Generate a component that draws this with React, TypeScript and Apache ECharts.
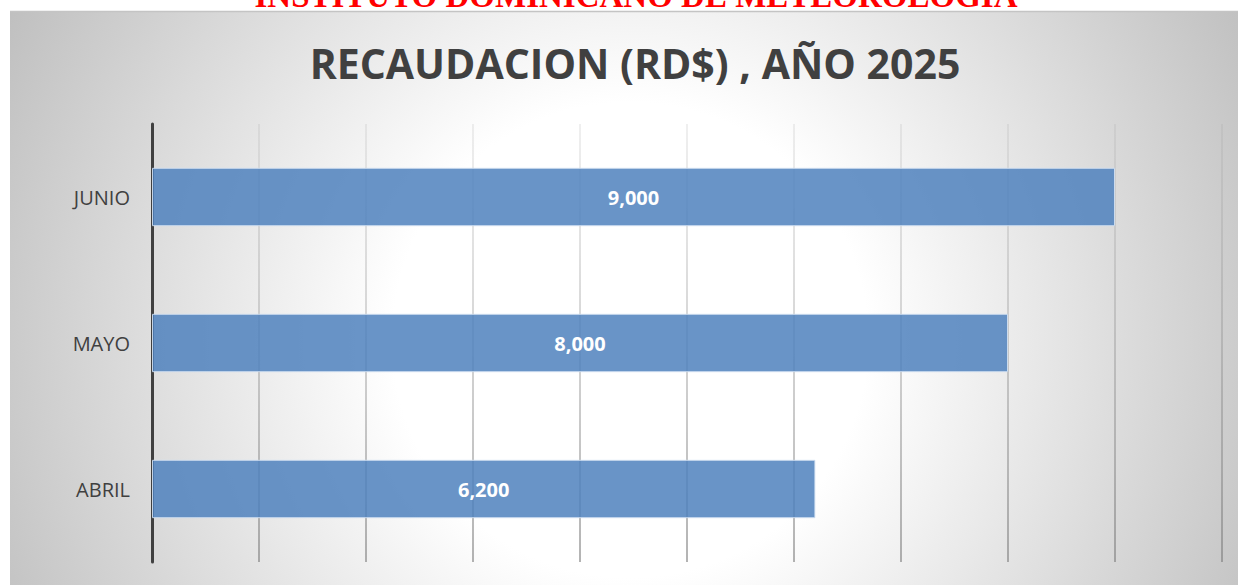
import React, { useEffect, useRef } from "react";
import * as echarts from "echarts";

const categories = ["ABRIL", "MAYO", "JUNIO"];
const values = [6200, 8000, 9000];
const axisMax = 10000;
const axisInterval = 1000;
const chartTitle = "RECAUDACION (RD$) , AÑO 2025";
const headerText = "INSTITUTO DOMINICANO DE METEOROLOGIA";

export default function App() {
  const ref = useRef<HTMLDivElement>(null);
  useEffect(() => {
    if (!ref.current) return;
    const chart = echarts.init(ref.current, null, { renderer: "svg" });
    const fmt = (v: number) => v.toLocaleString("en-US");
    chart.setOption({
      animation: false,
      backgroundColor: "#ffffff",
      graphic: [
        {
          type: "rect",
          z: -100,
          shape: { x: 10, y: 11, width: 1228, height: 574 },
          style: {
            fill: {
              type: "radial",
              x: 630,
              y: 340,
              r: 720,
              global: true,
              colorStops: [
                { offset: 0, color: "#ffffff" },
                { offset: 0.33, color: "#ffffff" },
                { offset: 1, color: "#bdbdbd" },
              ],
            },
          },
        },
        {
          type: "line",
          z: -99,
          shape: { x1: 10, y1: 11.5, x2: 1238, y2: 11.5 },
          style: { stroke: "#c4c4c4", lineWidth: 1.5 },
        },
        {
          type: "text",
          z: 10,
          x: 636,
          y: -4,
          style: {
            text: headerText,
            fill: "#ff0000",
            font: "bold 33px 'Liberation Serif', serif",
            textAlign: "center",
            textVerticalAlign: "middle",
          },
        },
        {
          type: "text",
          z: 10,
          x: 635,
          y: 63,
          style: {
            text: chartTitle,
            fill: "#404040",
            font: "bold 41px 'Open Sans', sans-serif",
            textAlign: "center",
            textVerticalAlign: "middle",
          },
        },
      ],
      grid: { left: 152, right: 16, top: 124, bottom: 23, containLabel: false },
      xAxis: {
        type: "value",
        min: 0,
        max: axisMax,
        interval: axisInterval,
        axisLabel: { show: false },
        axisLine: { show: false },
        axisTick: { show: false },
        splitLine: {
          show: true,
          lineStyle: {
            width: 1.5,
            color: {
              type: "linear",
              x: 0,
              y: 124,
              x2: 0,
              y2: 562,
              global: true,
              colorStops: [
                { offset: 0, color: "rgba(150,150,150,0.2)" },
                { offset: 1, color: "rgba(120,120,120,0.75)" },
              ],
            },
          },
        },
      },
      yAxis: {
        type: "category",
        data: categories,
        axisLine: { show: true, lineStyle: { color: "#404040", width: 3 } },
        axisTick: { show: false },
        axisLabel: {
          color: "#404040",
          fontSize: 20,
          fontFamily: "'Open Sans', sans-serif",
          margin: 22,
        },
        splitLine: { show: false },
      },
      series: [
        {
          type: "bar",
          data: values,
          barWidth: "40%",
          itemStyle: {
            color: "rgba(79,129,189,0.85)",
            borderColor: "rgba(210,224,242,0.9)",
            borderWidth: 1,
          },
          label: {
            show: true,
            position: "inside",
            color: "#ffffff",
            fontSize: 20,
            fontWeight: "bold",
            fontFamily: "'Open Sans', sans-serif",
            formatter: (p: any) => fmt(p.value),
          },
        },
      ],
    });
    return () => chart.dispose();
  }, []);
  return (
    <div
      ref={ref}
      style={{ position: "fixed", left: 0, top: 0, width: 1238, height: 585 }}
    />
  );
}
